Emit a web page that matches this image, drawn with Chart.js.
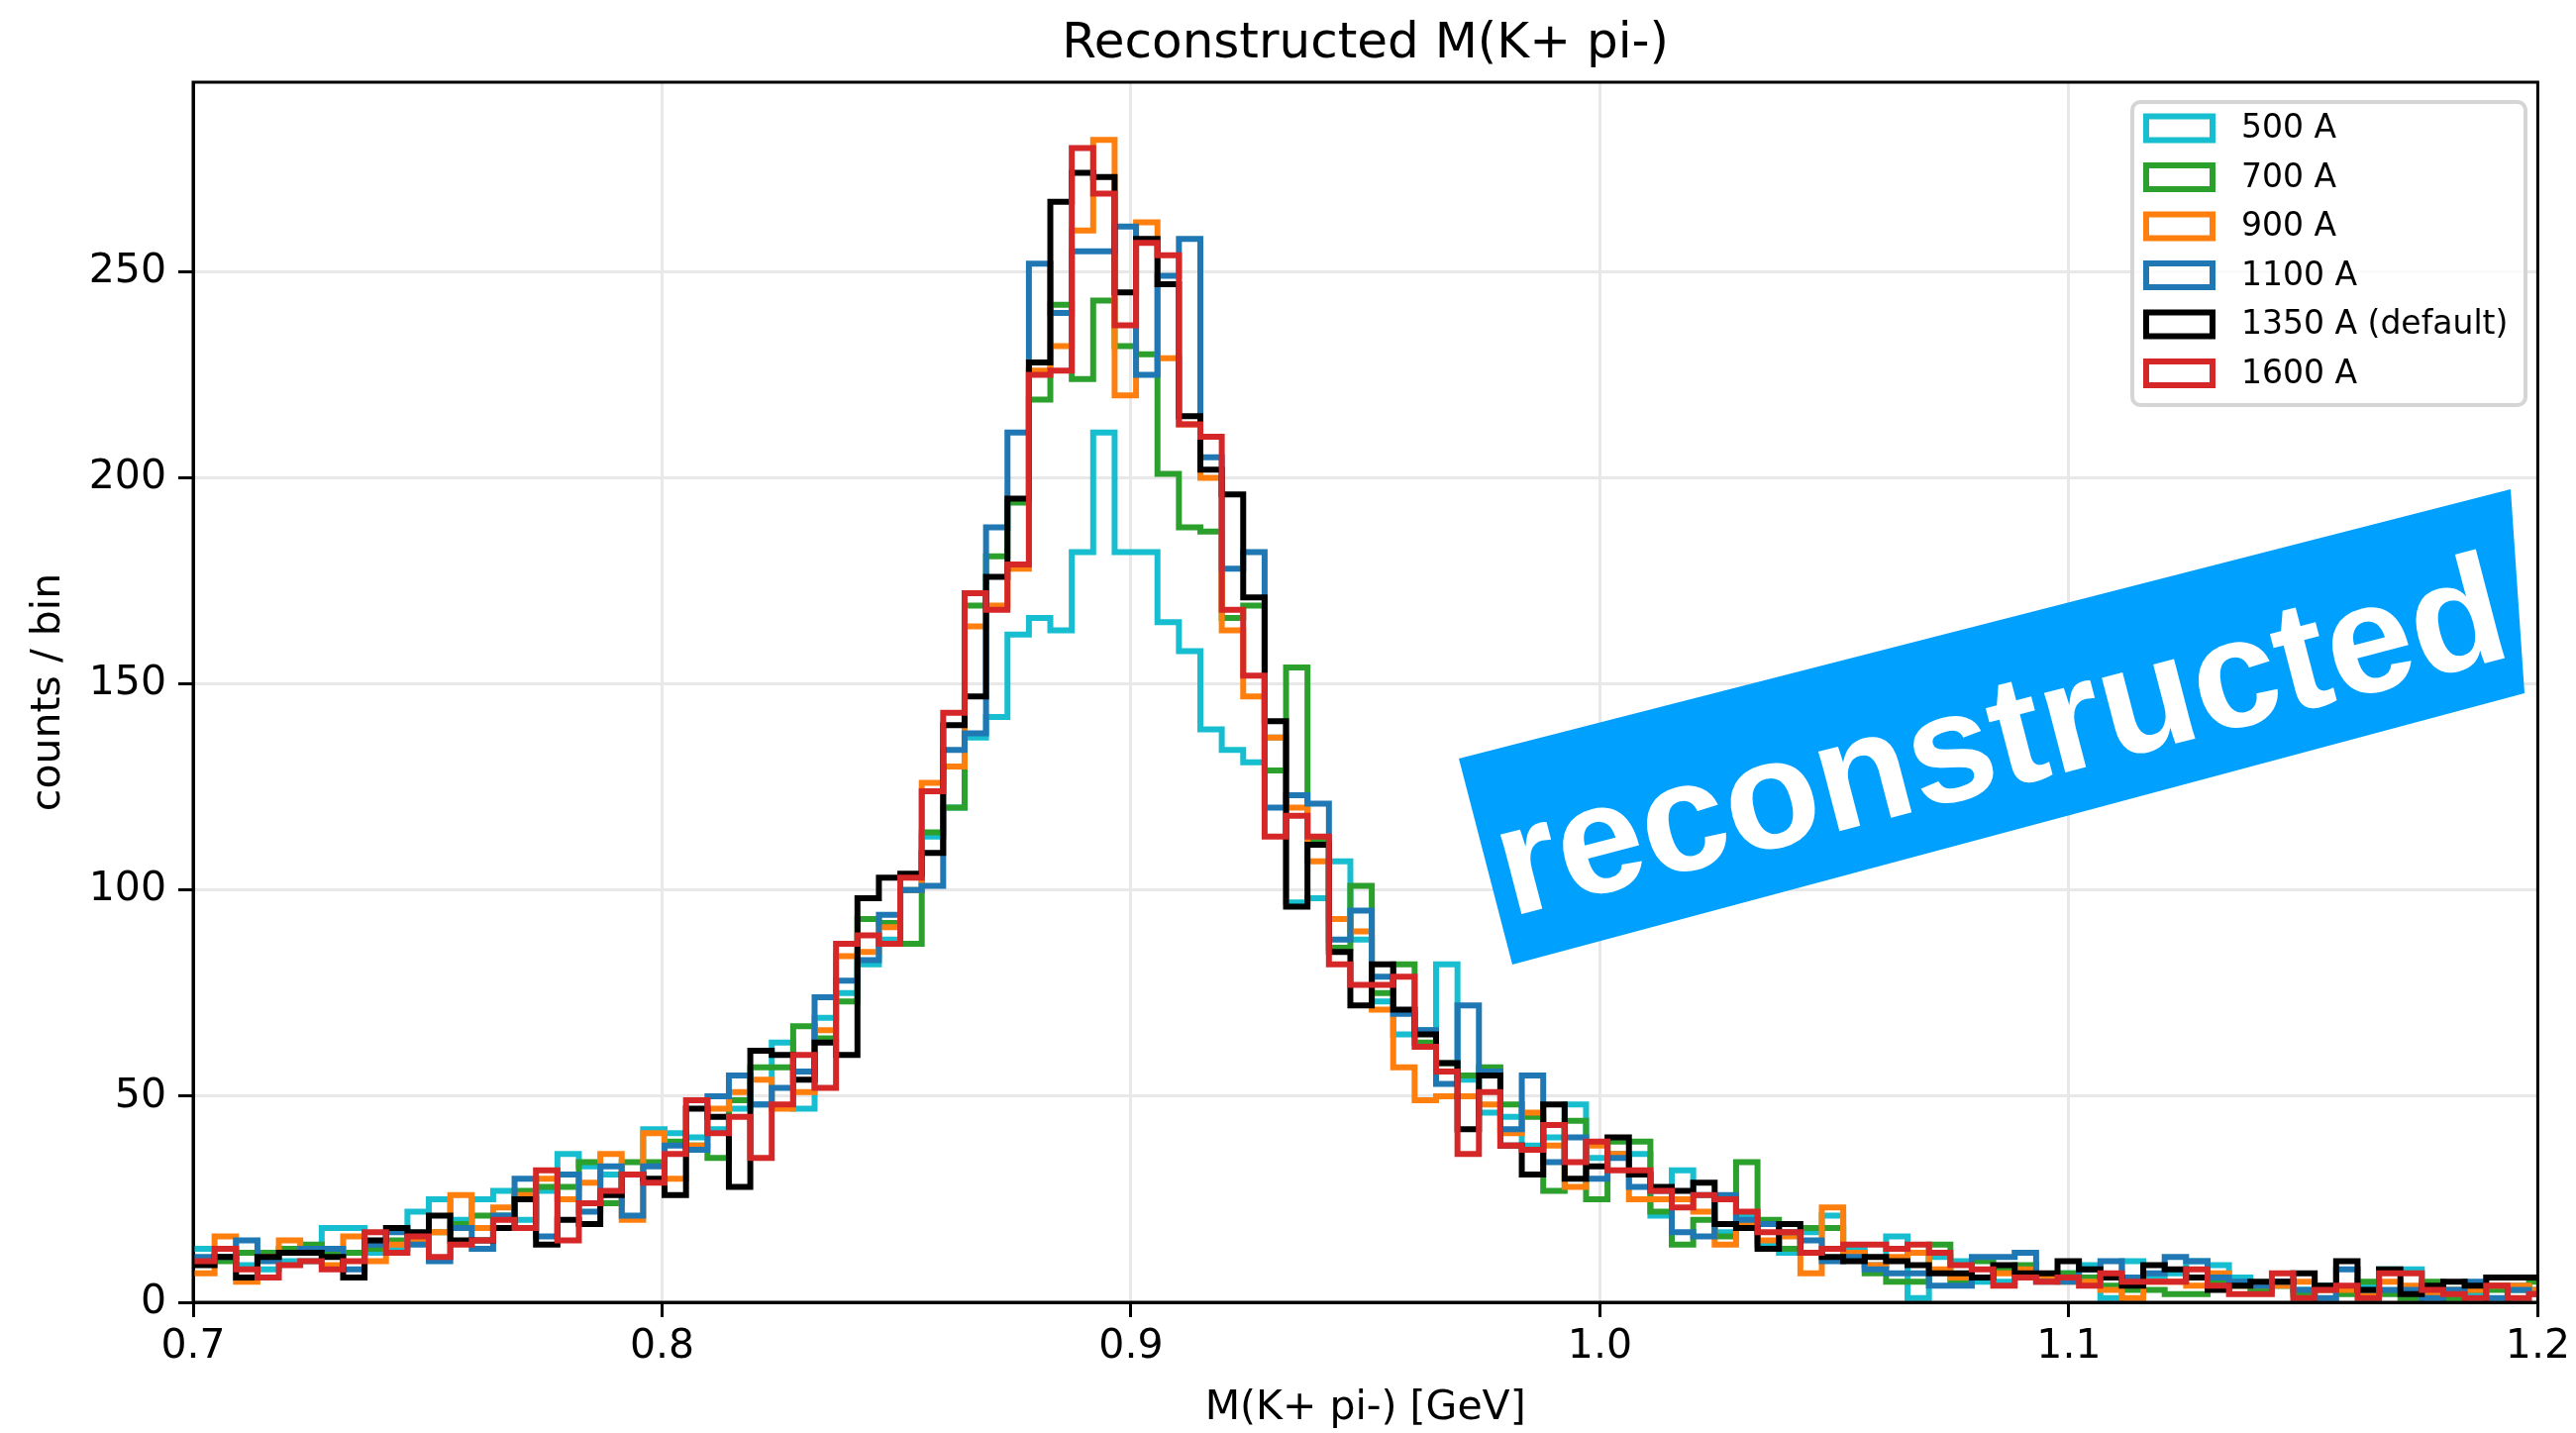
<!DOCTYPE html>
<html>
<head>
<meta charset="utf-8">
<script src="https://cdn.jsdelivr.net/npm/chart.js@4.4.1/dist/chart.umd.min.js"></script>
<style>
  html, body { margin: 0; padding: 0; background: #fff; }
  canvas { display: block; }
</style>
</head>
<body>
<canvas id="chart" width="2601" height="1447"></canvas>
<script>
// histogram binning: 110 bins from 0.7 GeV
const binStart = 0.7;
const binWidth = 0.00457;
const xTicks = [0.7, 0.8, 0.9, 1.0, 1.1, 1.2];
const yTicks = [0, 50, 100, 150, 200, 250];

const seriesLabels = ['500 A', '700 A', '900 A', '1100 A', '1350 A (default)', '1600 A'];
const seriesColors = ['#17becf', '#2ca02c', '#ff7f0e', '#1f77b4', '#000000', '#d62728'];

const counts500 = [
  13, 11, 9, 8, 10, 10, 18, 18, 12, 13,
  22, 25, 20, 25, 27, 20, 27, 36, 33, 31,
  31, 42, 41, 40, 42, 47, 48, 63, 47, 69,
  75, 82, 88, 100, 113, 120, 137, 142, 162, 166,
  163, 182, 211, 182, 182, 165, 158, 139, 134, 131,
  137, 97, 98, 107, 88, 73, 65, 66, 82, 54,
  46, 45, 38, 40, 48, 35, 36, 36, 21, 32,
  26, 17, 21, 14, 12, 17, 21, 13, 9, 16,
  1, 11, 10, 5, 5, 8, 6, 7, 9, 1,
  10, 6, 7, 10, 9, 6, 4, 4, 3, 4,
  3, 4, 8, 8, 3, 3, 2, 4, 4, 3
];
const counts700 = [
  10, 10, 12, 12, 13, 14, 12, 12, 13, 15,
  16, 17, 19, 21, 21, 27, 28, 28, 34, 24,
  34, 34, 39, 38, 35, 49, 57, 57, 67, 64,
  73, 93, 92, 87, 114, 120, 169, 181, 194, 219,
  242, 224, 243, 232, 230, 201, 188, 187, 166, 169,
  129, 154, 112, 86, 101, 75, 82, 63, 58, 55,
  57, 48, 45, 27, 44, 25, 39, 39, 22, 14,
  20, 16, 34, 20, 13, 18, 18, 12, 7, 5,
  5, 14, 5, 10, 8, 9, 6, 7, 6, 4,
  3, 3, 2, 2, 5, 4, 3, 4, 2, 3,
  2, 5, 2, 1, 5, 1, 3, 3, 3, 5
];
const counts900 = [
  7, 16, 5, 11, 15, 12, 9, 16, 10, 14,
  15, 17, 26, 18, 23, 26, 30, 25, 29, 36,
  20, 41, 30, 38, 47, 51, 54, 47, 51, 66,
  84, 85, 91, 100, 126, 130, 164, 169, 178, 226,
  232, 260, 282, 220, 262, 229, 213, 200, 163, 147,
  137, 120, 107, 93, 90, 71, 57, 49, 50, 50,
  48, 41, 46, 38, 28, 38, 36, 25, 25, 25,
  22, 14, 19, 15, 16, 7, 23, 12, 9, 11,
  12, 8, 6, 6, 7, 8, 6, 5, 5, 3,
  1, 5, 5, 4, 7, 4, 4, 4, 5, 3,
  3, 2, 5, 4, 2, 3, 3, 4, 4, 3
];
const counts1100 = [
  11, 11, 15, 10, 12, 13, 13, 8, 14, 17,
  14, 10, 18, 13, 21, 30, 16, 31, 22, 33,
  21, 33, 38, 37, 50, 55, 48, 52, 56, 74,
  78, 83, 94, 100, 101, 134, 138, 188, 211, 252,
  240, 255, 255, 261, 225, 249, 258, 205, 178, 182,
  120, 123, 121, 88, 95, 79, 70, 66, 53, 72,
  56, 42, 55, 34, 40, 30, 35, 28, 27, 17,
  16, 26, 20, 19, 17, 15, 10, 11, 8, 7,
  7, 4, 4, 11, 11, 12, 5, 5, 8, 10,
  6, 7, 11, 10, 6, 5, 4, 5, 3, 1,
  8, 3, 3, 3, 1, 3, 5, 1, 3, 2
];
const counts1350 = [
  9, 11, 6, 11, 12, 12, 11, 6, 15, 18,
  17, 21, 15, 15, 18, 25, 14, 20, 19, 26,
  31, 30, 26, 47, 45, 28, 61, 60, 54, 63,
  60, 98, 103, 104, 109, 140, 147, 176, 195, 228,
  267, 274, 273, 245, 258, 247, 215, 202, 196, 171,
  141, 96, 111, 85, 72, 82, 71, 65, 58, 42,
  55, 38, 31, 48, 30, 33, 40, 31, 28, 27,
  29, 19, 18, 13, 19, 12, 11, 10, 11, 10,
  9, 7, 7, 6, 9, 7, 7, 10, 8, 6,
  4, 9, 8, 6, 3, 4, 5, 5, 7, 4,
  10, 3, 8, 2, 4, 5, 4, 6, 6, 6
];
const counts1600 = [
  10, 13, 8, 6, 9, 10, 8, 10, 17, 12,
  16, 11, 14, 15, 20, 18, 32, 15, 24, 27,
  31, 29, 36, 49, 41, 45, 35, 48, 60, 52,
  87, 89, 87, 103, 124, 143, 172, 168, 179, 225,
  226, 280, 269, 237, 257, 254, 213, 210, 168, 152,
  113, 118, 113, 82, 77, 77, 79, 62, 56, 36,
  51, 38, 37, 43, 34, 39, 32, 32, 27, 23,
  26, 25, 22, 17, 17, 12, 13, 14, 14, 13,
  14, 12, 9, 8, 4, 6, 5, 6, 4, 7,
  5, 5, 5, 8, 4, 2, 2, 7, 1, 3,
  4, 1, 7, 7, 3, 2, 1, 4, 1, 2
];

const allCounts = [counts500, counts700, counts900, counts1100, counts1350, counts1600];

// step outline: one point per left bin edge, plus the closing right edge
function stepPoints(counts) {
  const pts = counts.map((c, i) => ({ x: binStart + i * binWidth, y: c }));
  pts.push({ x: binStart + counts.length * binWidth, y: counts[counts.length - 1] });
  return pts;
}

const datasets = allCounts.map((counts, i) => ({
  label: seriesLabels[i],
  data: stepPoints(counts),
  borderColor: seriesColors[i],
  borderWidth: 6,
  stepped: 'before',
  pointRadius: 0,
  fill: false,
  clip: 0,
  borderJoinStyle: 'miter',
  order: allCounts.length - i   // later series drawn on top
}));

// top/right spines
const frame = {
  id: 'frame',
  afterDatasetsDraw(chart) {
    const { ctx, chartArea: a } = chart;
    ctx.save();
    ctx.strokeStyle = '#000';
    ctx.lineWidth = 3;
    ctx.strokeRect(a.left, a.top, a.right - a.left, a.bottom - a.top);
    ctx.restore();
  }
};

// legend box in the upper right corner of the axes
const legendBox = {
  id: 'legendBox',
  afterDraw(chart) {
    const { ctx } = chart;
    const x0 = 2153, y0 = 103, w = 397, h = 306;
    ctx.save();
    ctx.beginPath();
    ctx.roundRect(x0, y0, w, h, 8);
    ctx.fillStyle = 'rgba(255,255,255,0.8)';
    ctx.fill();
    ctx.strokeStyle = '#d5d5d5';
    ctx.lineWidth = 4;
    ctx.stroke();
    ctx.font = '33px "DejaVu Sans"';
    ctx.textBaseline = 'middle';
    ctx.textAlign = 'left';
    chart.data.datasets.forEach((ds, i) => {
      const cy = 129.5 + i * 49.5;
      ctx.strokeStyle = ds.borderColor;
      ctx.lineWidth = 6;
      ctx.strokeRect(2167, cy - 12, 67, 24);
      ctx.fillStyle = '#000';
      ctx.fillText(ds.label, 2263, cy + 1);
    });
    ctx.restore();
  }
};

// tilted "reconstructed" banner over the tail
const stamp = {
  id: 'stamp',
  afterDraw(chart) {
    const { ctx } = chart;
    ctx.save();
    ctx.fillStyle = '#00a0ff';
    ctx.beginPath();
    ctx.moveTo(1473, 766);
    ctx.lineTo(2535, 494);
    ctx.lineTo(2549, 700);
    ctx.lineTo(1527, 974);
    ctx.closePath();
    ctx.fill();
    ctx.translate(2020, 746);
    ctx.rotate(-14.6 * Math.PI / 180);
    ctx.fillStyle = '#fff';
    ctx.font = 'bold 157px "Liberation Sans"';
    ctx.textAlign = 'center';
    ctx.textBaseline = 'middle';
    ctx.fillText('reconstructed', 0, 6);
    ctx.restore();
  }
};

Chart.defaults.font.family = '"DejaVu Sans"';
Chart.defaults.color = '#000';

new Chart(document.getElementById('chart'), {
  type: 'line',
  data: { datasets },
  options: {
    responsive: false,
    devicePixelRatio: 1,
    animation: false,
    layout: { padding: { left: 0, right: 35, top: 0, bottom: 0 } },
    plugins: {
      legend: { display: false },
      tooltip: { enabled: false },
      title: {
        display: true,
        fullSize: false,
        text: 'Reconstructed M(K+ pi-)',
        font: { size: 50, weight: 'normal' },
        color: '#000',
        padding: { top: 15, bottom: 8 }
      }
    },
    scales: {
      x: {
        type: 'linear',
        min: 0.7,
        max: 1.2,
        afterBuildTicks: s => { s.ticks = xTicks.map(v => ({ value: v })); },
        afterFit: s => { s.height = 132; },
        ticks: {
          font: { size: 41 },
          color: '#000',
          padding: 6,
          maxRotation: 0,
          callback: v => v.toFixed(1)
        },
        grid: { color: '#e8e8e8', lineWidth: 3, tickLength: 15, tickColor: '#000', tickWidth: 3 },
        border: { color: '#000', width: 3 },
        title: {
          display: true,
          text: 'M(K+ pi-) [GeV]',
          font: { size: 41 },
          color: '#000',
          padding: { top: 0, bottom: 0 }
        }
      },
      y: {
        type: 'linear',
        min: 0,
        max: 296,
        afterBuildTicks: s => { s.ticks = yTicks.map(v => ({ value: v })); },
        afterFit: s => { s.width = 195; },
        ticks: { font: { size: 41 }, color: '#000', padding: 12 },
        grid: { color: '#e8e8e8', lineWidth: 3, tickLength: 15, tickColor: '#000', tickWidth: 3 },
        border: { color: '#000', width: 3 },
        title: {
          display: true,
          text: 'counts / bin',
          font: { size: 41 },
          color: '#000',
          padding: { top: 25, bottom: 0 }
        }
      }
    }
  },
  plugins: [frame, legendBox, stamp]
});
</script>
</body>
</html>
